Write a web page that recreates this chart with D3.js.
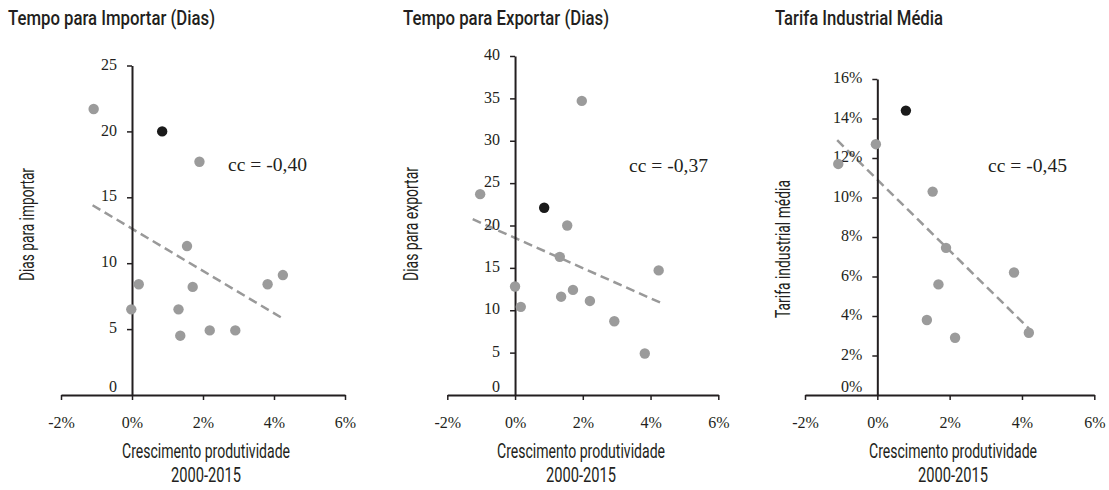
<!DOCTYPE html>
<html>
<head>
<meta charset="utf-8">
<script src="https://cdn.jsdelivr.net/npm/d3@7"></script>
<style>
  html, body { margin: 0; padding: 0; background: #fff; }
  svg { display: block; }
  .title { font-family: "Roboto", "DejaVu Sans Condensed", sans-serif; font-size: 21px; fill: #231f20; font-weight: 500; }
  .axtitle { font-family: "Roboto", "DejaVu Sans Condensed", sans-serif; font-size: 20px; fill: #231f20; font-weight: 400; }
  .tick text { font-family: "Liberation Serif", "DejaVu Serif", serif; font-size: 16px; fill: #231f20; font-variant-numeric: oldstyle-nums; }
  .cc { font-family: "Liberation Serif", "DejaVu Serif", serif; font-size: 18px; fill: #231f20; }
</style>
</head>
<body>
<svg id="chart" width="1109" height="490"></svg>
<script>
// ---------- DATA ----------
const xTicks = [-2, 0, 2, 4, 6];

// Panel 1: Tempo para Importar (Dias)
const importX = [-1.08, 0.85, 1.90, 1.55, 0.19, 1.71, 3.82, 4.25, -0.02, 1.31, 1.36, 2.19, 2.91];
const importY = [21.7, 20.0, 17.7, 11.3, 8.4, 8.2, 8.4, 9.1, 6.5, 6.5, 4.5, 4.9, 4.9];
const importHighlight = [false, true, false, false, false, false, false, false, false, false, false, false, false];
const importTrend = [[-1.11, 14.4], [4.27, 5.77]];
const importTicks = [0, 5, 10, 15, 20, 25];

// Panel 2: Tempo para Exportar (Dias)
const exportX = [1.97, -1.03, 0.86, 1.54, 1.32, 0.0, 0.17, 1.36, 1.71, 2.21, 2.93, 3.83, 4.24];
const exportY = [34.7, 23.7, 22.1, 20.0, 16.3, 12.8, 10.4, 11.6, 12.4, 11.1, 8.7, 4.9, 14.7];
const exportHighlight = [false, false, true, false, false, false, false, false, false, false, false, false, false];
const exportTrend = [[-1.25, 20.75], [4.29, 10.9]];
const exportTicks = [0, 5, 10, 15, 20, 25, 30, 35, 40];

// Panel 3: Tarifa Industrial Média (%)
const tariffX = [0.79, -0.04, -1.08, 1.53, 1.90, 3.78, 1.69, 1.37, 2.15, 4.19];
const tariffY = [14.4, 12.7, 11.7, 10.3, 7.45, 6.2, 5.6, 3.8, 2.9, 3.15];
const tariffHighlight = [true, false, false, false, false, false, false, false, false, false];
const tariffTrend = [[-1.11, 12.9], [4.19, 3.37]];
const tariffTicks = [0, 2, 4, 6, 8, 10, 12, 14, 16];

const titles = ["Tempo para Importar (Dias)", "Tempo para Exportar (Dias)", "Tarifa Industrial Média"];
const yTitles = ["Dias para importar", "Dias para exportar", "Tarifa industrial média"];
const ccLabels = ["cc = -0,40", "cc = -0,37", "cc = -0,45"];
const xTitleLines = ["Crescimento produtividade", "2000-2015"];

// ---------- LAYOUT ----------
const panels = [
  { xs: importX, ys: importY, hl: importHighlight, trend: importTrend, yTicks: importTicks, yMax: 25, pct: false,
    xr: [61, 345], yr: [395, 65.5], titleX: 8, titleW: 207, yTitle: [29, 224.5], yTitleW: 113, cc: [228, 167], xtc: 206 },
  { xs: exportX, ys: exportY, hl: exportHighlight, trend: exportTrend, yTicks: exportTicks, yMax: 40, pct: false,
    xr: [447.3, 718.3], yr: [395, 56], titleX: 403, titleW: 206, yTitle: [413, 224], yTitleW: 114, cc: [629, 168], xtc: 581 },
  { xs: tariffX, ys: tariffY, hl: tariffHighlight, trend: tariffTrend, yTicks: tariffTicks, yMax: 16, pct: true,
    xr: [805, 1094.3], yr: [395, 79], titleX: 775, titleW: 168, yTitle: [785, 249], yTitleW: 138, cc: [988, 168], xtc: 953 }
];

const svg = d3.select("#chart");
const axisColor = "#231f20";
const dotGray = "#9b9b9b";
const dotBlack = "#1a1a1a";

panels.forEach((p, i) => {
  const x = d3.scaleLinear().domain([-2, 6]).range(p.xr);
  const y = d3.scaleLinear().domain([0, p.yMax]).range(p.yr);
  const g = svg.append("g");

  // title
  g.append("text").attr("class", "title").attr("x", p.titleX).attr("y", 25)
    .attr("textLength", p.titleW).attr("lengthAdjust", "spacingAndGlyphs").text(titles[i]);

  // trend line
  g.append("line")
    .attr("x1", x(p.trend[0][0])).attr("y1", y(p.trend[0][1]))
    .attr("x2", x(p.trend[1][0])).attr("y2", y(p.trend[1][1]))
    .attr("stroke", "#999").attr("stroke-width", 2.5).attr("stroke-dasharray", "9,5");

  // x axis at y=0
  const xAxis = d3.axisBottom(x).tickValues(xTicks).tickSize(5).tickSizeOuter(0)
    .tickFormat(d => d + "%");
  const xg = g.append("g").attr("transform", `translate(0,${y(0)})`).call(xAxis);
  xg.select(".domain").attr("stroke", axisColor).attr("stroke-width", 2);
  xg.selectAll(".tick line").attr("stroke", axisColor).attr("stroke-width", 1.5);
  xg.selectAll(".tick text").attr("dy", null).attr("y", 29).attr("dominant-baseline", "middle");

  // y axis at x=0
  const yAxis = d3.axisLeft(y).tickValues(p.yTicks).tickSize(5).tickSizeOuter(0)
    .tickFormat(d => p.pct ? d + "%" : d);
  const yg = g.append("g").attr("transform", `translate(${x(0)},0)`).call(yAxis);
  yg.select(".domain").attr("stroke", axisColor).attr("stroke-width", 2);
  yg.selectAll(".tick line").attr("stroke", axisColor).attr("stroke-width", 1.5);
  yg.selectAll(".tick text").attr("x", -15).attr("dy", null).attr("dominant-baseline", "middle")
    .filter(d => d === 0).attr("y", -7);
  yg.selectAll(".tick").filter(d => d === 0).select("line").remove();

  // points
  g.selectAll("circle.pt").data(p.xs.map((v, k) => ({ x: v, y: p.ys[k], h: p.hl[k] })))
    .join("circle").attr("class", "pt")
    .attr("cx", d => x(d.x)).attr("cy", d => y(d.y)).attr("r", 5.2)
    .attr("fill", d => d.h ? dotBlack : dotGray);

  // cc label
  g.append("text").attr("class", "cc").attr("x", p.cc[0]).attr("y", p.cc[1])
    .attr("dominant-baseline", "middle").attr("textLength", 79).attr("lengthAdjust", "spacingAndGlyphs")
    .text(ccLabels[i]);

  // y title
  g.append("text").attr("class", "axtitle")
    .attr("transform", `translate(${p.yTitle[0]},${p.yTitle[1]}) rotate(-90)`)
    .attr("text-anchor", "middle").attr("dominant-baseline", "middle")
    .attr("textLength", p.yTitleW).attr("lengthAdjust", "spacingAndGlyphs").text(yTitles[i]);

  // x title
  g.append("text").attr("class", "axtitle").attr("x", p.xtc).attr("y", 453)
    .attr("text-anchor", "middle").attr("dominant-baseline", "middle")
    .attr("textLength", 168).attr("lengthAdjust", "spacingAndGlyphs").text(xTitleLines[0]);
  g.append("text").attr("class", "axtitle").attr("x", p.xtc).attr("y", 477)
    .attr("text-anchor", "middle").attr("dominant-baseline", "middle")
    .attr("textLength", 70).attr("lengthAdjust", "spacingAndGlyphs").text(xTitleLines[1]);
});
</script>
</body>
</html>
